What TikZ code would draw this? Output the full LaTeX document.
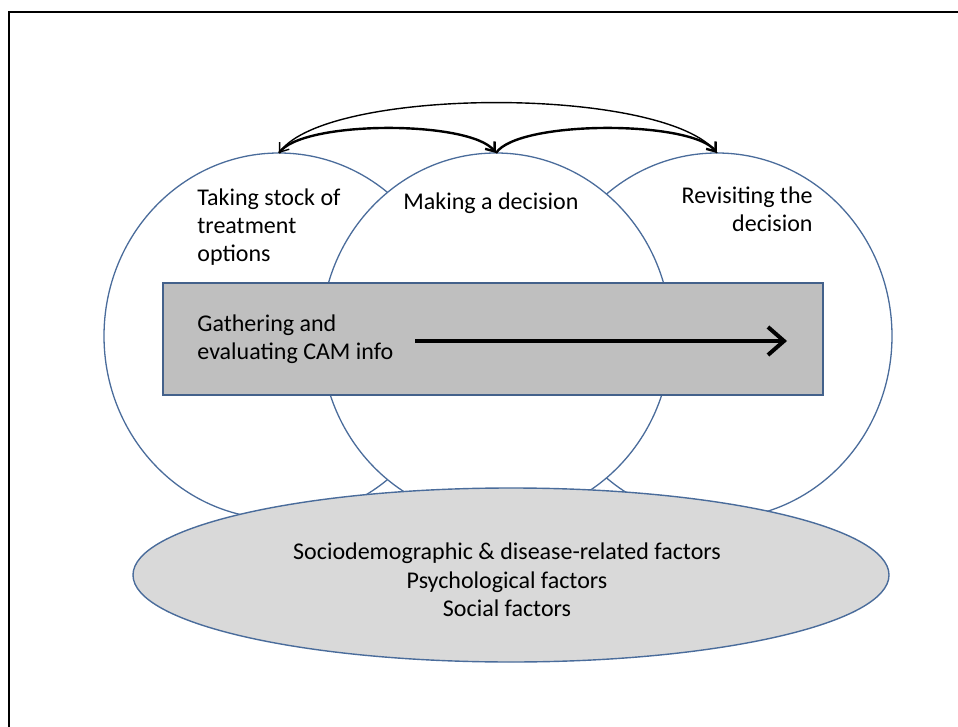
\documentclass[tikz,border=0pt]{standalone}
\usepackage{fontspec}
\setmainfont{Carlito}
\usetikzlibrary{shapes.geometric,arrows.meta}
\definecolor{ringblue}{HTML}{4A6C9B}
\definecolor{boxgray}{HTML}{BFBFBF}
\definecolor{basegray}{HTML}{D9D9D9}
\begin{document}
\begin{tikzpicture}[x=0.5pt,y=-0.5pt,
  ring/.style={ellipse,draw=ringblue,fill=white,line width=0.65pt,minimum width=175pt,minimum height=183pt,inner sep=0pt,outer sep=0pt},
  txt/.style={inner sep=0pt,font=\fontsize{12}{14.2}\selectfont},
  hop/.style={draw,line width=1.2pt,-{Straight Barb[length=4pt,width=6pt]}}]
\useasboundingbox (0,0) rectangle (958,727);
\draw[line width=1pt](9,727)--(9,12)--(958,12);
\node[ring](stock) at (279,336){};
\node[ring](revisit) at (717,336){};
\node[ring](decide) at (496,336){};
\node[draw=ringblue!90!black,fill=boxgray,line width=0.7pt,minimum width=330pt,minimum height=56pt,inner sep=0pt](gather) at (493,339){};
\node[ellipse,draw=ringblue,fill=basegray,line width=0.7pt,minimum width=378pt,minimum height=87pt,inner sep=0pt](factors) at (511,575){};
\node[txt,align=left,anchor=north west](stocktext) at (197,188){Taking stock of\\treatment\\options};
\node[txt,anchor=west](decidetext) at (403,203){Making a decision};
\node[txt,align=right,anchor=north east](revisittext) at (813,186){Revisiting the\\decision};
\node[txt,align=left,anchor=north west](gathertext) at (197,314){Gathering and\\evaluating CAM info};
\node[txt,align=center](factorstext) at (507,580){Sociodemographic \& disease-related factors\\Psychological factors\\Social factors};
\coordinate (flowstart) at (415,341);
\coordinate (flowend) at (787,341);
\draw[line width=2pt,-{Straight Barb[length=8pt,width=14pt]}](flowstart)--(flowend);
\draw[hop](stock.north) .. controls +(22,-33) and +(-26,-33) .. (decide.north);
\draw[hop](decide.north) .. controls +(22,-33) and +(-26,-33) .. (revisit.north);
\draw[hop,line width=0.7pt](revisit.north) .. controls +(-50,-67) and +(50,-67) .. (stock.north);
\end{tikzpicture}
\end{document}
